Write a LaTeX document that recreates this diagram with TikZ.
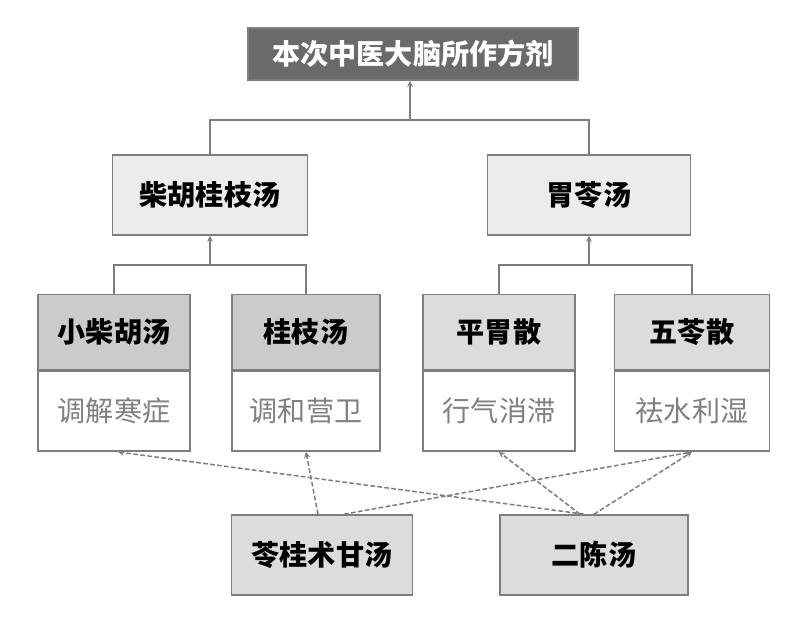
\documentclass[tikz,border=0pt]{standalone}
\usepackage{fontspec}
\setmainfont{Noto Sans CJK SC}
\usepackage{xcolor}
\usepackage{tikz}
\usetikzlibrary{calc,positioning,arrows.meta}

\definecolor{edge}{HTML}{7E7E7E}
\definecolor{dark}{HTML}{6A6A6A}
\definecolor{pale}{HTML}{ECECEC}
\definecolor{head}{HTML}{CBCBCB}
\definecolor{headlt}{HTML}{DCDCDC}

\begin{document}
\begin{tikzpicture}[x=0.03cm,y=-0.03cm]
  \tikzset{every node/.style={shape=rectangle,text centered,inner sep=0pt,draw=edge,line width=1.4pt,font=\fontsize{24}{28}\selectfont\bfseries}};
  \tikzset{tip/.style={-{Stealth[length=5pt,width=5pt]}}};
  \tikzset{link/.style={draw=edge,line width=1.3pt}};
  \tikzset{cross/.style={draw=edge,line width=1.3pt,dash pattern=on 4pt off 2pt}};
  \useasboundingbox (0,0) rectangle (800,621);
  \node[fill=dark,text=white,minimum width=330*0.03cm,minimum height=52*0.03cm] (R) at (413,54){本次中医大脑所作方剂};
  \node[fill=pale,minimum width=195*0.03cm,minimum height=80*0.03cm] (CG) at (210,195){柴胡桂枝汤};
  \node[fill=pale,minimum width=203*0.03cm,minimum height=80*0.03cm] (WL) at (589,195){胃苓汤};
  \node[fill=head,minimum width=152*0.03cm,minimum height=75*0.03cm] (XCh) at (114,332){小柴胡汤};
  \node[fill=white,text=gray,font=\fontsize{24}{28}\selectfont,minimum width=152*0.03cm,minimum height=80*0.03cm,below=0pt of XCh] (XC){调解寒症};
  \node[fill=head,minimum width=148*0.03cm,minimum height=75*0.03cm] (GZh) at (306,332){桂枝汤};
  \node[fill=white,text=gray,font=\fontsize{24}{28}\selectfont,minimum width=148*0.03cm,minimum height=80*0.03cm,below=0pt of GZh] (GZ){调和营卫};
  \node[fill=headlt,minimum width=152*0.03cm,minimum height=75*0.03cm] (PWh) at (499,332){平胃散};
  \node[fill=white,text=gray,font=\fontsize{24}{28}\selectfont,minimum width=152*0.03cm,minimum height=80*0.03cm,below=0pt of PWh] (PW){行气消滞};
  \node[fill=headlt,minimum width=155*0.03cm,minimum height=75*0.03cm] (WSh) at (692,332){五苓散};
  \node[fill=white,text=gray,font=\fontsize{24}{28}\selectfont,minimum width=155*0.03cm,minimum height=80*0.03cm,below=0pt of WSh] (WS){祛水利湿};
  \node[fill=headlt,minimum width=181*0.03cm,minimum height=80*0.03cm] (LG) at (322,555){苓桂术甘汤};
  \node[fill=headlt,minimum width=188*0.03cm,minimum height=80*0.03cm] (EC) at (594,555){二陈汤};
  \coordinate (J0) at (410,120);
  \coordinate (J1) at (210,265);
  \coordinate (J2) at (589,265);
  \draw[link,tip] (J0) -- (R.south -| J0);
  \draw[link] (CG.north) |- (J0) -| (WL.north);
  \draw[link,tip] (J1) -- (CG.south);
  \draw[link] (XCh.north) |- (J1) -| (GZh.north);
  \draw[link,tip] (J2) -- (WL.south);
  \draw[link] (PWh.north) |- (J2) -| (WSh.north);
  \draw[cross,tip] ($(LG.north)+(-4,0)$) -- (GZ.south);
  \draw[cross,tip] ($(LG.north)+(22,0)$) -- (WS.south);
  \draw[cross,tip] ($(EC.north)+(-10,0)$) -- ($(XC.south)+(4,0)$);
  \draw[cross,tip] ($(EC.north)+(-14,0)$) -- (PW.south);
  \draw[cross,tip] ($(EC.north)+(0,0)$) -- (WS.south);
\end{tikzpicture}
\end{document}
